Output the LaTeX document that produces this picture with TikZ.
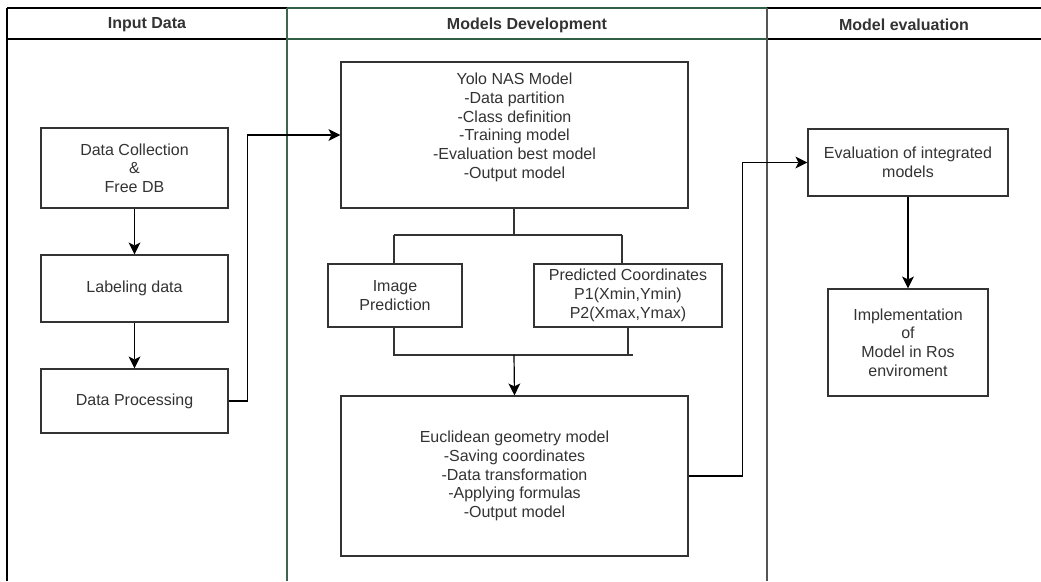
\documentclass[tikz,border=0pt]{standalone}
\usepackage{fontspec}
\setmainfont{Liberation Sans}
\usetikzlibrary{arrows.meta}
\definecolor{txt}{HTML}{333333}
\definecolor{edge}{HTML}{333333}
\definecolor{lanegreen}{HTML}{2F5F44}
\definecolor{lanegray}{HTML}{555555}
\begin{document}
\begin{tikzpicture}[x=1pt,y=-1pt,
  box/.style={draw=edge, line width=1.2pt, fill=white, align=center, text=txt,
    inner sep=0pt, font=\fontsize{16}{18.7}\selectfont},
  head/.style={text=txt, font=\bfseries\fontsize{16}{18}\selectfont},
  link/.style={draw=edge, line width=1.2pt},
  arrow/.style={link, -{Stealth[length=12pt,width=12pt,inset=3pt,line width=0pt]}, black}]
\useasboundingbox (0,0) rectangle (1041,581);

% swimlane frame
\draw[black, line width=1.2pt] (7,8) -- (287,8);
\draw[black, line width=1.2pt] (7,39) -- (287,39);
\draw[lanegreen, line width=1.2pt] (287,8) -- (767,8);
\draw[lanegreen, line width=1.2pt] (287,39) -- (767,39);
\draw[black, line width=1.2pt] (767,8) -- (1041,8);
\draw[black, line width=1.2pt] (767,39) -- (1041,39);
\draw[black, line width=1.2pt] (7,8) -- (7,581);
\draw[lanegreen!80!gray, line width=1.2pt] (287,8) -- (287,581);
\draw[lanegray, line width=2pt] (767,8) -- (767,581);

\node[head] (h1) at (147,25) {Input Data};
\node[head] (h2) at (527,25) {Models Development};
\node[head] (h3) at (904,25) {Model evaluation};

% input data lane
\node[box, minimum width=187pt, minimum height=80pt] (collect) at (134.5,168)
  {Data Collection\\\&\\Free DB};
\node[box, minimum width=187pt, minimum height=67pt] (label) at (134.5,288.5)
  {Labeling data};
\node[box, minimum width=187pt, minimum height=64pt] (proc) at (134.5,401)
  {Data Processing};

% models development lane
\node[box, minimum width=347pt, minimum height=146pt] (yolo) at (514.5,135)
  {Yolo NAS Model\\-Data partition\\-Class definition\\-Training model\\-Evaluation best model\\-Output model\\};
\node[box, minimum width=134pt, minimum height=63pt] (imgp) at (395,295.5)
  {Image\\Prediction};
\node[box, minimum width=188pt, minimum height=63pt] (coord) at (628,295.5)
  {Predicted Coordinates\\P1(Xmin,Ymin)\\P2(Xmax,Ymax)};
\node[box, minimum width=347pt, minimum height=160pt] (eucl) at (514.5,476)
  {Euclidean geometry model\\-Saving coordinates\\-Data transformation\\-Applying formulas\\-Output model};

% model evaluation lane
\node[box, minimum width=200pt, minimum height=67pt] (evalm) at (908,162.5)
  {Evaluation of integrated\\models};
\node[box, minimum width=160pt, minimum height=107pt] (impl) at (908,342.5)
  {Implementation\\of\\Model in Ros\\enviroment};

% split and merge points
\coordinate (split) at (514,235);
\coordinate (splitL) at (394,235);
\coordinate (splitR) at (622,235);
\coordinate (mergeL) at (394,355);
\coordinate (mergeR) at (633,355);
\coordinate (mergeC) at (514,355);
\coordinate (coordDrop) at (628,355);

% connectors
\draw[arrow] (collect) -- (label);
\draw[arrow] (label) -- (proc);
\draw[arrow] (proc.east) -- ++(19,0) |- (yolo.west);
\draw[link] (yolo.south -| split) -- (split);
\draw[link] (splitL) -- (splitR);
\draw[link] (splitL) -- (imgp.north -| splitL);
\draw[link] (splitR) -- (coord.north -| splitR);
\draw[link] (imgp.south -| mergeL) -- (mergeL) -- (mergeR);
\draw[link] (coord.south -| coordDrop) -- (coordDrop);
\draw[arrow] (mergeC) -- (eucl.north);
\draw[arrow] (eucl.east) -- ++(54,0) |- (evalm.west);
\draw[arrow] (evalm) -- (impl);
\end{tikzpicture}
\end{document}
